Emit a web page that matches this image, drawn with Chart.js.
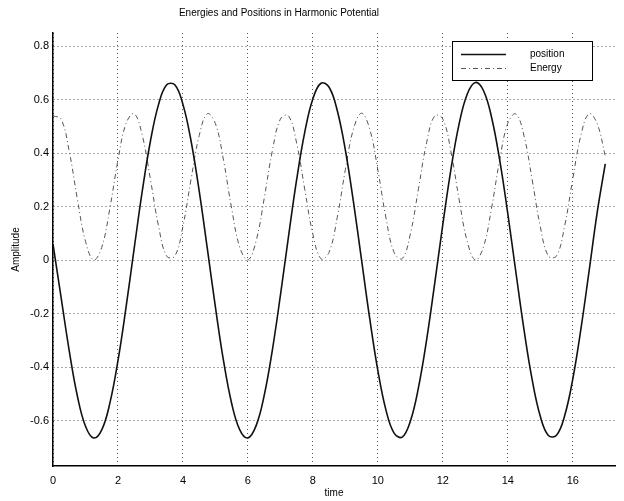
<!DOCTYPE html>
<html>
<head>
<meta charset="utf-8">
<script src="https://cdn.jsdelivr.net/npm/chart.js@4/dist/chart.umd.min.js"></script>
<style>
  html, body { margin: 0; padding: 0; background: #fff; }
  #wrap { width: 624px; height: 501px; }
</style>
</head>
<body>
<div id="wrap"><canvas id="myChart" width="624" height="501"></canvas></div>
<script>
// time samples (x axis)
const times = [0, 0.25, 0.5, 0.75, 1, 1.25, 1.5, 1.75, 2, 2.25,
    2.5, 2.75, 3, 3.25, 3.5, 3.75, 4, 4.25, 4.5, 4.75,
    5, 5.25, 5.5, 5.75, 6, 6.25, 6.5, 6.75, 7, 7.25,
    7.5, 7.75, 8, 8.25, 8.5, 8.75, 9, 9.25, 9.5,
    9.75, 10, 10.25, 10.5, 10.75, 11, 11.25, 11.5, 11.75, 12,
    12.25, 12.5, 12.75, 13, 13.25, 13.5, 13.75, 14, 14.25,
    14.5, 14.75, 15, 15.25, 15.5, 15.75, 16, 16.25, 16.5, 16.75, 17];

// position curve (solid)
const position = [0.06, -0.14, -0.339, -0.508, -0.621, -0.665, -0.635, -0.535, -0.376, -0.175,
    0.045, 0.260, 0.446, 0.583, 0.656, 0.656, 0.583, 0.446, 0.259, 0.044,
    -0.176, -0.377, -0.536, -0.635, -0.665, -0.620, -0.507, -0.338, -0.132, 0.089,
    0.301, 0.479, 0.604, 0.662, 0.647, 0.560, 0.412, 0.217, -0.001,
    -0.219, -0.413, -0.561, -0.647, -0.662, -0.603, -0.477, -0.299, -0.087, 0.134,
    0.340, 0.509, 0.621, 0.665, 0.635, 0.535, 0.375, 0.174, -0.046,
    -0.261, -0.447, -0.584, -0.656, -0.655, -0.582, -0.445, -0.258, -0.043, 0.177, 0.36];

// energy curve (dash-dot)
const energy = [0.540, 0.528, 0.407, 0.229, 0.071, 0.001, 0.048, 0.194, 0.374, 0.512,
    0.548, 0.466, 0.302, 0.127, 0.015, 0.015, 0.127, 0.303, 0.466, 0.548,
    0.511, 0.373, 0.193, 0.048, 0.001, 0.071, 0.230, 0.408, 0.528, 0.540,
    0.438, 0.265, 0.097, 0.005, 0.030, 0.160, 0.339, 0.491, 0.550,
    0.490, 0.338, 0.158, 0.029, 0.006, 0.098, 0.267, 0.439, 0.540, 0.528,
    0.406, 0.228, 0.071, 0.001, 0.049, 0.195, 0.375, 0.512, 0.547,
    0.465, 0.301, 0.126, 0.015, 0.016, 0.128, 0.304, 0.467, 0.548, 0.511, 0.39];

const seriesNames = ['position', 'Energy'];
const chartTitle = 'Energies and Positions in Harmonic Potential';
const xTitle = 'time';
const yTitle = 'Amplitude';

const FONT = '"Liberation Sans", Arial, sans-serif';

const toPoints = (ys) => ys.map((y, i) => ({ x: times[i], y: y }));

// title + boxed legend inside the plot, like the matlab figure
const figureText = {
    id: 'figureText',
    afterDraw(chart) {
        const ctx = chart.ctx;
        ctx.save();
        ctx.font = '10px ' + FONT;
        ctx.fillStyle = '#000';
        ctx.textAlign = 'center';
        ctx.textBaseline = 'middle';
        ctx.fillText(chartTitle, 279, 13);

        // legend box
        const bx = 452, by = 41, bw = 140, bh = 39;
        ctx.fillStyle = '#fff';
        ctx.fillRect(bx, by, bw, bh);
        ctx.strokeStyle = '#000';
        ctx.lineWidth = 1;
        ctx.strokeRect(bx + 0.5, by + 0.5, bw, bh);

        const rows = [54, 68];
        chart.data.datasets.forEach((ds, i) => {
            ctx.beginPath();
            ctx.setLineDash(ds.borderDash || []);
            ctx.strokeStyle = ds.borderColor;
            ctx.lineWidth = ds.borderWidth;
            ctx.moveTo(461, rows[i] + 0.5);
            ctx.lineTo(506, rows[i] + 0.5);
            ctx.stroke();
            ctx.setLineDash([]);
            ctx.fillStyle = '#000';
            ctx.textAlign = 'left';
            ctx.fillText(ds.label, 530, rows[i]);
        });
        ctx.restore();
    }
};

const data1 = {
    datasets: [
        {
            label: seriesNames[0],
            data: toPoints(position),
            borderColor: '#111',
            borderWidth: 1.6,
            pointRadius: 0,
            tension: 0.4,
            fill: false,
        },
        {
            label: seriesNames[1],
            data: toPoints(energy),
            borderColor: '#555',
            borderWidth: 1,
            borderDash: [5, 3, 1, 3],
            pointRadius: 0,
            tension: 0.4,
            fill: false,
        },
    ],
};

const config = {
    type: 'line',
    data: data1,
    plugins: [figureText],
    options: {
        responsive: false,
        animation: false,
        layout: { padding: { top: 33, right: 9, left: 0, bottom: 0 } },
        plugins: {
            legend: { display: false },
            title: { display: false },
            tooltip: { enabled: false },
        },
        scales: {
            x: {
                type: 'linear',
                min: 0,
                max: 17.3,
                afterFit: (scale) => { scale.height = 35; },
                ticks: {
                    stepSize: 2,
                    includeBounds: false,
                    maxRotation: 0,
                    padding: 8,
                    color: '#000',
                    font: { family: FONT, size: 11 },
                },
                grid: { color: '#555', lineWidth: 1, drawTicks: false },
                border: { display: true, color: '#000', width: 1.5, dash: [1, 3] },
                title: {
                    display: true,
                    text: xTitle,
                    color: '#000',
                    font: { family: FONT, size: 10 },
                    padding: { top: 0, bottom: 2 },
                },
            },
            y: {
                type: 'linear',
                min: -0.77,
                max: 0.85,
                afterFit: (scale) => { scale.width = 53; },
                ticks: {
                    stepSize: 0.2,
                    includeBounds: false,
                    padding: 4,
                    color: '#000',
                    font: { family: FONT, size: 11 },
                    callback: (v) => String(Math.round(v * 10) / 10),
                },
                grid: { color: '#555', lineWidth: 1, drawTicks: false },
                border: { display: true, color: '#000', width: 1.5, dash: [1, 3] },
                title: {
                    display: true,
                    text: yTitle,
                    color: '#000',
                    font: { family: FONT, size: 10 },
                    padding: { top: 10, bottom: 0 },
                },
            },
        },
    },
};

var ctx = document.getElementById('myChart').getContext('2d');
var myChart = new Chart(ctx, config);
</script>
</body>
</html>
